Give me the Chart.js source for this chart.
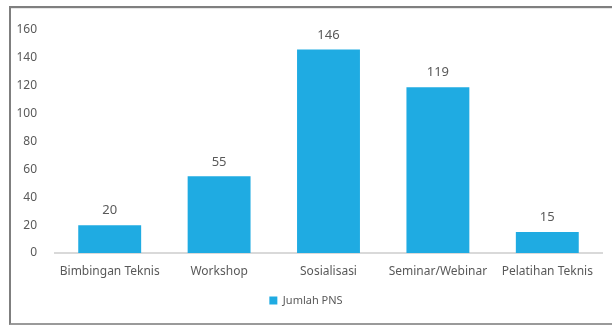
<!DOCTYPE html>
<html>
<head>
<meta charset="utf-8">
<script src="https://cdn.jsdelivr.net/npm/chart.js@4.4.1/dist/chart.umd.min.js"></script>
<style>
  html, body { margin: 0; padding: 0; background: #fff; }
  #wrap { position: relative; width: 612px; height: 326px; overflow: hidden; }
  #frame {
    position: absolute; left: 9px; top: 6px; width: 640px; height: 315px;
    border-top: 2px solid #7f7f7f; border-left: 2px solid #7f7f7f; border-bottom: 2px solid #9a9a9a;
    box-shadow: inset 0 1px 0 #e6e6e6;
  }
  canvas { position: absolute; left: 0; top: 0; }
</style>
</head>
<body>
<div id="wrap">
  <div id="frame"></div>
  <canvas id="chart" width="612" height="326"></canvas>
</div>
<script>
const kategori = ['Bimbingan Teknis', 'Workshop', 'Sosialisasi', 'Seminar/Webinar', 'Pelatihan Teknis'];
const jumlahPNS = [20, 55, 146, 119, 15];
const yTicks = [0, 20, 40, 60, 80, 100, 120, 140, 160];

const warnaBatang = '#1fabe2';
const warnaTeks = '#595959';
const huruf = "'Noto Sans', sans-serif";

// angka di atas tiap batang
const labelNilai = {
  id: 'labelNilai',
  afterDatasetsDraw(chart) {
    const ctx = chart.ctx;
    const meta = chart.getDatasetMeta(0);
    ctx.save();
    ctx.fillStyle = warnaTeks;
    ctx.font = '13px ' + huruf;
    ctx.textAlign = 'center';
    ctx.textBaseline = 'bottom';
    meta.data.forEach((bar, i) => {
      ctx.fillText(String(chart.data.datasets[0].data[i]), bar.x, bar.y - 8);
    });
    ctx.restore();
  }
};

const ctx = document.getElementById('chart').getContext('2d');
new Chart(ctx, {
  type: 'bar',
  data: {
    labels: kategori,
    datasets: [{
      label: 'Jumlah PNS',
      data: jumlahPNS,
      backgroundColor: warnaBatang,
      barPercentage: 0.575,
      categoryPercentage: 1
    }]
  },
  options: {
    responsive: false,
    animation: false,
    layout: { padding: { left: 10, right: 10, top: 30, bottom: 10 } },
    scales: {
      x: {
        grid: { display: false },
        border: { display: true, color: '#d9d9d9', width: 2 },
        ticks: { color: warnaTeks, font: { family: huruf, size: 12 }, padding: 3, maxRotation: 0 },
        afterFit(scale) { scale.height = 32; }
      },
      y: {
        min: 0,
        max: 160,
        afterBuildTicks(scale) { scale.ticks = yTicks.map(v => ({ value: v })); },
        grid: { display: false },
        border: { display: false },
        ticks: { color: warnaTeks, font: { family: huruf, size: 12 }, padding: 10 },
        afterFit(scale) { scale.width = 45; }
      }
    },
    plugins: {
      legend: {
        position: 'bottom',
        labels: {
          color: warnaTeks,
          font: { family: huruf, size: 11 },
          boxWidth: 8,
          boxHeight: 8,
          padding: 10
        }
      },
      tooltip: { enabled: false }
    }
  },
  plugins: [labelNilai]
});
</script>
</body>
</html>
